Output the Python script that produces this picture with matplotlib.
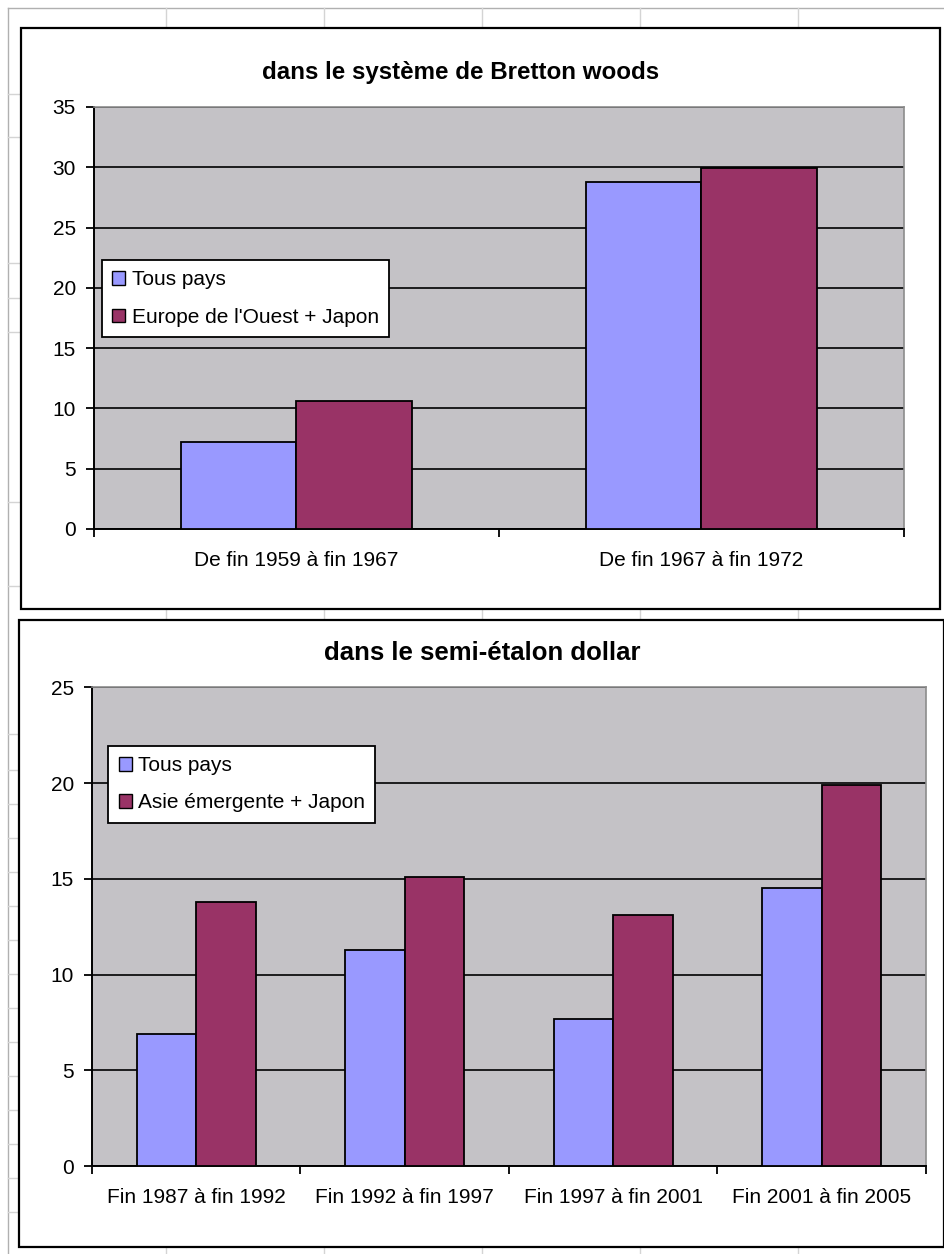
import matplotlib
matplotlib.use("Agg")
import matplotlib.pyplot as plt
from matplotlib.patches import Rectangle, Patch
from matplotlib.lines import Line2D
import numpy as np

plt.rcParams['font.family'] = ['Liberation Sans', 'DejaVu Sans']

# ---------------- data ----------------
title1 = "dans le système de Bretton woods"
cats1 = ["De fin 1959 à fin 1967", "De fin 1967 à fin 1972"]
names1 = ["Tous pays", "Europe de l'Ouest + Japon"]
tous_pays_1 = [7.2, 28.8]
europe_japon = [10.65, 29.9]
yticks1 = [0, 5, 10, 15, 20, 25, 30, 35]

title2 = "dans le semi-étalon dollar"
cats2 = ["Fin 1987 à fin 1992", "Fin 1992 à fin 1997",
         "Fin 1997 à fin 2001", "Fin 2001 à fin 2005"]
names2 = ["Tous pays", "Asie émergente + Japon"]
tous_pays_2 = [6.9, 11.3, 7.7, 14.5]
asie_japon = [13.8, 15.1, 13.1, 19.9]
yticks2 = [0, 5, 10, 15, 20, 25]

COL_A = '#9999FF'
COL_B = '#993366'
PLOT_BG = '#C4C2C6'

W, H = 945, 1254
fig = plt.figure(figsize=(W / 100, H / 100), dpi=100)
fig.patch.set_facecolor('white')


def fx(x):
    return x / W


def fy(y):
    return 1 - y / H


def seg(x0, y0, x1, y1, color='#D4D4D4', lw=1.0, z=0.1):
    fig.add_artist(Line2D([fx(x0), fx(x1)], [fy(y0), fy(y1)],
                          transform=fig.transFigure, color=color, lw=lw, zorder=z))


# ---------------- spreadsheet background ----------------
seg(8, 8, W, 8, color='#B0B0B0')
seg(8, 8, 8, H, color='#B0B0B0')
col_lines = [166, 324, 482, 640, 798]
for cx in col_lines:
    seg(cx, 8, cx, 28)
    seg(cx, 609, cx, 620)
    seg(cx, 1247, cx, H)
row_lines = [94, 137, 263, 298, 332, 502, 586, 734, 770, 804, 838, 872, 906,
             940, 974, 1008, 1042, 1076, 1110, 1144, 1178, 1212]
for ry in row_lines:
    seg(8, ry, 20, ry)

# ---------------- chart boxes ----------------
def box(x0, y0, x1, y1):
    r = Rectangle((fx(x0), fy(y1)), fx(x1) - fx(x0), fy(y0) - fy(y1),
                  transform=fig.transFigure, facecolor='white', edgecolor='black',
                  lw=1.6, zorder=0.5)
    fig.add_artist(r)


box(21, 28, 940, 609)
box(19, 620, 944, 1247)


def make_chart(rect, cats, s1, s2, names, yticks, title, title_xy, title_size,
               leg_xy, xpad):
    ax = fig.add_axes(rect)
    ax.set_zorder(2)
    ax.set_facecolor(PLOT_BG)
    n = len(cats)
    x = np.arange(n)
    w = 1 / 1.75 / 2
    ax.bar(x - w / 2, s1, w, color=COL_A, edgecolor='black', lw=1.3, zorder=3)
    ax.bar(x + w / 2, s2, w, color=COL_B, edgecolor='black', lw=1.3, zorder=3)
    ax.set_xlim(-0.5, n - 0.5)
    ax.set_ylim(yticks[0], yticks[-1])
    ax.set_yticks(yticks)
    ax.set_yticklabels([str(t) for t in yticks])
    ax.yaxis.grid(True, color='black', lw=1.2)
    ax.set_axisbelow(True)
    for s in ['left', 'bottom']:
        ax.spines[s].set_color('black')
        ax.spines[s].set_linewidth(1.4)
    for s in ['top', 'right']:
        ax.spines[s].set_color('#8C8C8C')
        ax.spines[s].set_linewidth(1.2)
    ax.tick_params(axis='y', direction='out', length=6, width=1.3,
                   labelsize=15, pad=7, colors='black')
    ax.set_xticks(x)
    ax.set_xticklabels(cats)
    ax.set_xticks(np.arange(n + 1) - 0.5, minor=True)
    ax.tick_params(axis='x', which='major', length=0, labelsize=15, pad=xpad)
    ax.tick_params(axis='x', which='minor', direction='out', length=6, width=1.3)
    handles = [Patch(facecolor=COL_A, edgecolor='black', lw=1.0),
               Patch(facecolor=COL_B, edgecolor='black', lw=1.0)]
    leg = ax.legend(handles, names, loc='upper left',
                    bbox_to_anchor=(fx(leg_xy[0]), fy(leg_xy[1])),
                    bbox_transform=fig.transFigure, frameon=True, fancybox=False,
                    framealpha=1, edgecolor='black', fontsize=15,
                    handlelength=0.62, handleheight=0.62, handletextpad=0.3,
                    borderpad=0.5, labelspacing=0.88, borderaxespad=0)
    leg.get_frame().set_linewidth(1.3)
    fig.text(fx(title_xy[0]), fy(title_xy[1]), title, ha='center', va='center',
             fontsize=title_size, fontweight='bold', zorder=3)
    return ax


make_chart([fx(94), fy(529), (904 - 94) / W, (529 - 107) / H],
           cats1, tous_pays_1, europe_japon, names1, yticks1,
           title1, (461, 73), 17.4, (102, 260), 16)

make_chart([fx(92), fy(1166), (926 - 92) / W, (1166 - 687.3) / H],
           cats2, tous_pays_2, asie_japon, names2, yticks2,
           title2, (482, 653), 18.5, (108.3, 745.7), 16)

fig.savefig('out.png', dpi=100, facecolor='white')
